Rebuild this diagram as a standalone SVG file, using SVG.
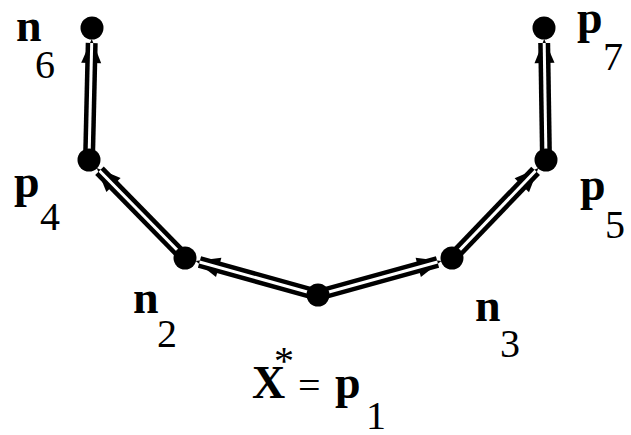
<svg xmlns="http://www.w3.org/2000/svg" width="631" height="435" viewBox="0 0 631 435">
<style>
.outer{stroke:#000;stroke-width:12;fill:none;stroke-linecap:butt}
.inner{stroke:#fff;stroke-width:3;fill:none;stroke-linecap:butt}
.head{fill:#000}
.dot{fill:#000}
text{font-family:'Liberation Serif','Times New Roman',serif;fill:#000}
.lb{font-weight:bold;font-size:46px}
.sb{font-weight:normal;font-size:40px}
</style>
<rect width="631" height="435" fill="#fff"/>
<g id="connectors">
  <g id="e-p1-n2">
    <line class="outer" x1="318" y1="295" x2="199.5" y2="262"/>
    <polygon class="head" points="195.6,261 221.4,257.7 216,277"/>
  </g>
  <g id="e-n2-p4">
    <line class="outer" x1="185" y1="258" x2="99.5" y2="170.7"/>
    <polygon class="head" points="96.7,167.9 120.6,178 106.4,192"/>
  </g>
  <g id="e-p4-n6">
    <line class="outer" x1="89" y1="160" x2="91.7" y2="43"/>
    <polygon class="head" points="91.75,39 101.2,63.2 81.2,62.8"/>
  </g>
  <g id="e-p1-n3">
    <line class="outer" x1="318" y1="295" x2="437.5" y2="262"/>
    <polygon class="head" points="441.4,260.9 420.9,276.9 415.6,257.7"/>
  </g>
  <g id="e-n3-p5">
    <line class="outer" x1="452" y1="258" x2="535.6" y2="170.8"/>
    <polygon class="head" points="538.4,167.9 529,192.2 514.6,178.3"/>
  </g>
  <g id="e-p5-p7">
    <line class="outer" x1="546" y1="160" x2="544.2" y2="43"/>
    <polygon class="head" points="544.2,39 554.5,62.8 534.5,63.2"/>
  </g>
  <g id="inner-lines">
    <line class="inner" x1="318" y1="295" x2="199.5" y2="262"/>
    <line class="inner" x1="185" y1="258" x2="99.5" y2="170.7"/>
    <line class="inner" x1="89" y1="160" x2="91.7" y2="43"/>
    <line class="inner" x1="318" y1="295" x2="437.5" y2="262"/>
    <line class="inner" x1="452" y1="258" x2="535.6" y2="170.8"/>
    <line class="inner" x1="546" y1="160" x2="544.2" y2="43"/>
  </g>
</g>
<g id="n6"><circle class="dot" cx="92" cy="28" r="11.5"/><text class="lb" x="16" y="41">n</text><text class="sb" x="35" y="78">6</text></g>
<g id="p4"><circle class="dot" cx="89" cy="160" r="11.5"/><text class="lb" x="14" y="197">p</text><text class="sb" x="40" y="230">4</text></g>
<g id="n2"><circle class="dot" cx="185" cy="258" r="11.5"/><text class="lb" x="133" y="313">n</text><text class="sb" x="157" y="347">2</text></g>
<g id="p1"><circle class="dot" cx="318" cy="295" r="11.5"/><text class="lb" x="252" y="398">X</text><text class="sb" x="274" y="374" font-size="32">*</text><text class="sb" x="298" y="399" font-size="48">=</text><text class="lb" x="335" y="398">p</text><text class="sb" x="366" y="429">1</text></g>
<g id="n3"><circle class="dot" cx="452" cy="258" r="11.5"/><text class="lb" x="475" y="321">n</text><text class="sb" x="500" y="357">3</text></g>
<g id="p5"><circle class="dot" cx="546" cy="160" r="11.5"/><text class="lb" x="580" y="200">p</text><text class="sb" x="605" y="238">5</text></g>
<g id="p7"><circle class="dot" cx="544" cy="28" r="11.5"/><text class="lb" x="577" y="33">p</text><text class="sb" x="603" y="70">7</text></g>
</svg>
